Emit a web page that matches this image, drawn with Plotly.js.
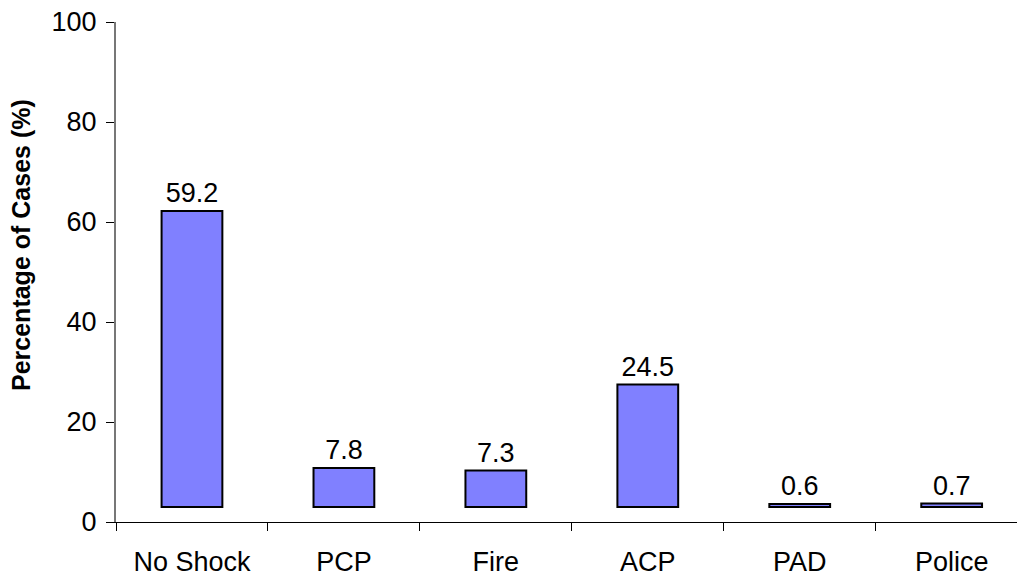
<!DOCTYPE html>
<html>
<head>
<meta charset="utf-8">
<script src="https://cdn.plot.ly/plotly-3.0.1.min.js"></script>
<style>html,body{margin:0;padding:0;background:#fff;}#chart{width:1017px;height:577px;}</style>
</head>
<body>
<div id="chart"></div>
<script>
var categories = ["No Shock", "PCP", "Fire", "ACP", "PAD", "Police"];
var percentages = [59.2, 7.8, 7.3, 24.5, 0.6, 0.7];
var labels = ["59.2", "7.8", "7.3", "24.5", "0.6", "0.7"];
var yTicks = [0, 20, 40, 60, 80, 100];
var yTitle = "Percentage of Cases (%)";

var FONT = "Liberation Sans, Arial, sans-serif";

var trace = {
  type: "bar",
  x: categories,
  y: percentages,
  base: 3,
  width: 0.4,
  text: labels,
  textposition: "outside",
  textfont: {family: FONT, size: 27, color: "#000"},
  cliponaxis: false,
  marker: {color: "#8080FF", line: {color: "#000", width: 2}},
  hoverinfo: "none"
};

var layout = {
  width: 1017, height: 577,
  margin: {l: 116, r: 0, t: 22, b: 55},
  paper_bgcolor: "#fff", plot_bgcolor: "#fff",
  font: {family: FONT, size: 27, color: "#000"},
  showlegend: false,
  xaxis: {
    type: "category",
    range: [-0.5, 5.43],
    showgrid: false, zeroline: false,
    showline: true, linecolor: "#000", linewidth: 1,
    ticks: "outside", ticklen: 8, tickcolor: "#000", tickwidth: 1,
    tickson: "boundaries",
    tickfont: {size: 27},
    ticklabelstandoff: 16
  },
  yaxis: {
    range: [0, 100],
    tickvals: yTicks,
    ticktext: yTicks.map(String),
    showgrid: false, zeroline: false,
    showline: true, linecolor: "#777", linewidth: 2,
    ticks: "outside", ticklen: 8, tickcolor: "#000", tickwidth: 1,
    tickfont: {size: 27},
    ticklabelstandoff: 4
  },
  annotations: [{
    text: "<b>" + yTitle + "</b>",
    xref: "paper", yref: "paper",
    x: -116 / 901, y: (522 - 245) / 500,
    xanchor: "left", yanchor: "middle",
    xshift: 5,
    textangle: -90,
    showarrow: false,
    font: {family: FONT, size: 25, color: "#000"}
  }]
};

Plotly.newPlot("chart", [trace], layout, {displayModeBar: false, staticPlot: true});
</script>
</body>
</html>
